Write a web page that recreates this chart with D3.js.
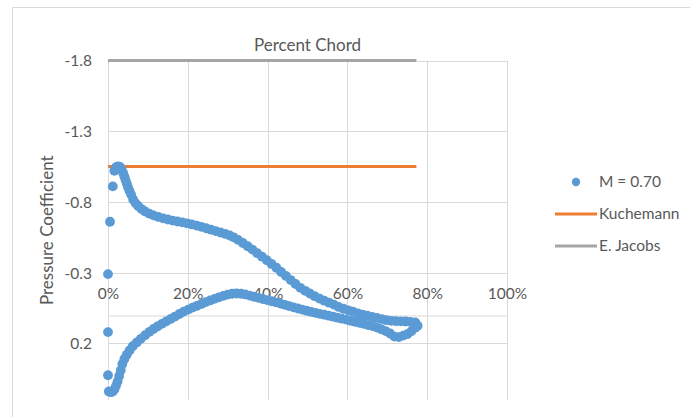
<!DOCTYPE html>
<html>
<head>
<meta charset="utf-8">
<script src="https://cdn.jsdelivr.net/npm/d3@7"></script>
<style>
  html, body { margin: 0; padding: 0; background: #fff; }
  svg { display: block; font-family: Lato, "Open Sans", sans-serif; }
  .tick text { fill: #595959; }
</style>
</head>
<body>
<svg id="chart" width="690" height="417"></svg>
<script>
// Upper surface pressure distribution, M = 0.70 (chord in %, Cp)
const upperChord = [0.0, 0.5, 1.2, 1.6, 2.0, 2.5, 3.0, 3.4, 3.8, 4.1, 4.4, 4.7, 5.0, 5.4, 5.8,
  6.3, 6.9, 7.6, 8.4, 9.3, 10.3, 11.4, 12.6, 13.8, 15.0, 16.2, 17.4, 18.6, 19.8, 21.0,
  22.2, 23.4, 24.6, 25.8, 27.0, 28.2, 29.4, 30.5, 31.5, 32.6, 33.8, 35.0, 36.2, 37.4,
  38.6, 39.8, 41.0, 42.2, 43.4, 44.6, 45.8, 47.0, 48.2, 49.4, 50.6, 51.8, 53.0, 54.2,
  55.4, 56.6, 57.8, 59.0, 60.2, 61.4, 62.6, 63.8, 65.0, 66.2, 67.4, 68.6, 69.8, 71.0,
  72.2, 73.4, 74.6, 75.8, 77.0];
const upperCp = [-0.29, -0.66, -0.91, -1.02, -1.045, -1.052, -1.048, -1.03, -1.005, -0.98, -0.955, -0.93, -0.905, -0.878, -0.852,
  -0.818, -0.792, -0.77, -0.75, -0.733, -0.718, -0.705, -0.694, -0.684, -0.676, -0.668, -0.662, -0.656, -0.649, -0.641,
  -0.633, -0.624, -0.614, -0.604, -0.594, -0.584, -0.574, -0.563, -0.550, -0.532, -0.510, -0.487, -0.463, -0.438,
  -0.413, -0.388, -0.362, -0.335, -0.305, -0.277, -0.248, -0.220, -0.193, -0.172, -0.153, -0.134, -0.117, -0.102,
  -0.088, -0.074, -0.058, -0.045, -0.034, -0.024, -0.013, -0.004, 0.004, 0.012, 0.020, 0.028, 0.036, 0.040,
  0.043, 0.044, 0.045, 0.048, 0.052];

// Lower surface pressure distribution, M = 0.70 (chord in %, Cp)
const lowerChord = [0.0, 0.0, 0.2, 0.7, 1.2, 1.6, 2.0, 2.4, 2.8, 3.2, 3.6, 4.1, 4.7, 5.4, 6.2,
  7.2, 8.2, 9.3, 10.4, 11.4, 12.4, 13.5, 14.6, 15.7, 16.8, 17.9, 19.0, 20.1, 21.2, 22.3,
  23.4, 24.5, 25.6, 26.7, 27.8, 28.9, 30.0, 31.1, 32.2, 33.3, 34.4, 35.5, 36.6, 37.7,
  38.8, 39.9, 41.0, 42.1, 43.2, 44.3, 45.4, 46.5, 47.6, 48.7, 49.8, 50.9, 52.0, 53.1,
  54.2, 55.3, 56.4, 57.5, 58.6, 59.7, 60.8, 61.9, 63.0, 64.1, 65.2, 66.3, 67.4, 68.5,
  69.6, 70.7, 71.8, 72.9, 74.0, 75.0, 76.0, 77.0, 77.6];
const lowerCp = [0.12, 0.425, 0.54, 0.545, 0.54, 0.525, 0.50, 0.47, 0.43, 0.39, 0.345, 0.31, 0.28, 0.25, 0.22,
  0.193, 0.168, 0.142, 0.118, 0.098, 0.080, 0.062, 0.044, 0.027, 0.010, -0.008, -0.025, -0.039, -0.053, -0.066,
  -0.079, -0.092, -0.104, -0.115, -0.126, -0.136, -0.145, -0.151, -0.153, -0.151, -0.146, -0.138, -0.130, -0.122,
  -0.114, -0.106, -0.098, -0.090, -0.082, -0.073, -0.064, -0.055, -0.047, -0.039, -0.031, -0.023, -0.016, -0.009,
  -0.003, 0.004, 0.011, 0.018, 0.025, 0.032, 0.040, 0.047, 0.054, 0.062, 0.070, 0.078, 0.088, 0.100,
  0.113, 0.130, 0.152, 0.155, 0.145, 0.135, 0.115, 0.090, 0.075];

// Reference (critical) pressure levels drawn across the chord
const lineChord = [0, 77.3];
const kuchemannCp = [-1.05, -1.05];
const jacobsCp = [-1.8, -1.8];

// Axis ticks
const xTicks = [0, 20, 40, 60, 80, 100];
const yTicks = [-1.8, -1.3, -0.8, -0.3, 0.2];
const yDomain = [-1.8, 0.6];

const seriesNames = ["M = 0.70", "Kuchemann", "E. Jacobs"];
const colors = { m070: "#5B9BD5", kuchemann: "#ED7D31", jacobs: "#A5A5A5" };

const tickFont = 15.5, titleFont = 17;
const svg = d3.select("#chart");

// chart frame
svg.append("rect")
  .attr("x", 12.5).attr("y", 7.5)
  .attr("width", 700).attr("height", 420)
  .attr("fill", "#fff").attr("stroke", "#d9d9d9");

const plot = { left: 108, right: 507, top: 60.5, bottom: 400 };
const x = d3.scaleLinear().domain([0, 100]).range([plot.left, plot.right]);
// Cp axis runs with negative values upward
const y = d3.scaleLinear().domain(yDomain).range([plot.top, plot.bottom]);

// gridlines
const grid = svg.append("g").attr("stroke", "#d9d9d9").attr("stroke-width", 1);
grid.selectAll("line.h").data(yTicks).join("line")
  .attr("x1", plot.left).attr("x2", plot.right)
  .attr("y1", d => Math.round(y(d)) + 0.5).attr("y2", d => Math.round(y(d)) + 0.5);
grid.selectAll("line.v").data(xTicks).join("line")
  .attr("y1", plot.top).attr("y2", plot.bottom)
  .attr("x1", d => Math.round(x(d)) + 0.5).attr("x2", d => Math.round(x(d)) + 0.5);

// chord axis crosses at Cp = 0, labels sit on the upper side
const xAxis = svg.append("g")
  .attr("transform", `translate(0,${Math.round(y(0)) + 0.5})`)
  .call(d3.axisTop(x).tickValues(xTicks).tickFormat(d => d + "%").tickSize(0).tickPadding(16.5));
xAxis.select(".domain").attr("stroke", "#d9d9d9");
xAxis.selectAll("text").attr("font-size", tickFont).attr("font-family", "Lato, sans-serif");

const yAxis = svg.append("g")
  .attr("transform", `translate(${plot.left},0)`)
  .call(d3.axisLeft(y).tickValues(yTicks).tickFormat(d => d.toFixed(1)).tickSize(0).tickPadding(16));
yAxis.select(".domain").remove();
yAxis.selectAll("text").attr("font-size", tickFont).attr("font-family", "Lato, sans-serif")
  .attr("dy", "0.35em");

// axis titles
svg.append("text")
  .attr("x", (plot.left + plot.right) / 2).attr("y", 50.5)
  .attr("text-anchor", "middle").attr("font-size", titleFont).attr("fill", "#595959")
  .text("Percent Chord");
svg.append("text")
  .attr("transform", `translate(53,${(plot.top + plot.bottom) / 2}) rotate(-90)`)
  .attr("text-anchor", "middle").attr("font-size", titleFont).attr("fill", "#595959")
  .text("Pressure Coefficient");

// reference lines (drawn beneath the markers)
const line = d3.line().x(d => x(d[0])).y(d => y(d[1]));
svg.append("path")
  .datum(d3.zip(lineChord, kuchemannCp))
  .attr("d", line).attr("fill", "none")
  .attr("stroke", colors.kuchemann).attr("stroke-width", 3);
svg.append("path")
  .datum(d3.zip(lineChord, jacobsCp))
  .attr("d", line).attr("fill", "none")
  .attr("stroke", colors.jacobs).attr("stroke-width", 3);

// M = 0.70 scatter markers
const pts = d3.zip(upperChord, upperCp).concat(d3.zip(lowerChord, lowerCp));
svg.append("g").selectAll("circle").data(pts).join("circle")
  .attr("cx", d => x(d[0])).attr("cy", d => y(d[1]))
  .attr("r", 4.9).attr("fill", colors.m070);

// legend
const legend = svg.append("g").attr("font-size", tickFont).attr("fill", "#595959");
const rows = [182, 214, 246];
legend.append("circle").attr("cx", 576).attr("cy", rows[0]).attr("r", 4.2).attr("fill", colors.m070);
legend.append("line").attr("x1", 555).attr("x2", 597).attr("y1", rows[1]).attr("y2", rows[1])
  .attr("stroke", colors.kuchemann).attr("stroke-width", 3);
legend.append("line").attr("x1", 555).attr("x2", 597).attr("y1", rows[2]).attr("y2", rows[2])
  .attr("stroke", colors.jacobs).attr("stroke-width", 3);
legend.selectAll("text").data(seriesNames).join("text")
  .attr("x", 599)
  .attr("y", (d, i) => rows[i]).attr("dy", "0.35em")
  .text(d => d);
</script>
</body>
</html>
